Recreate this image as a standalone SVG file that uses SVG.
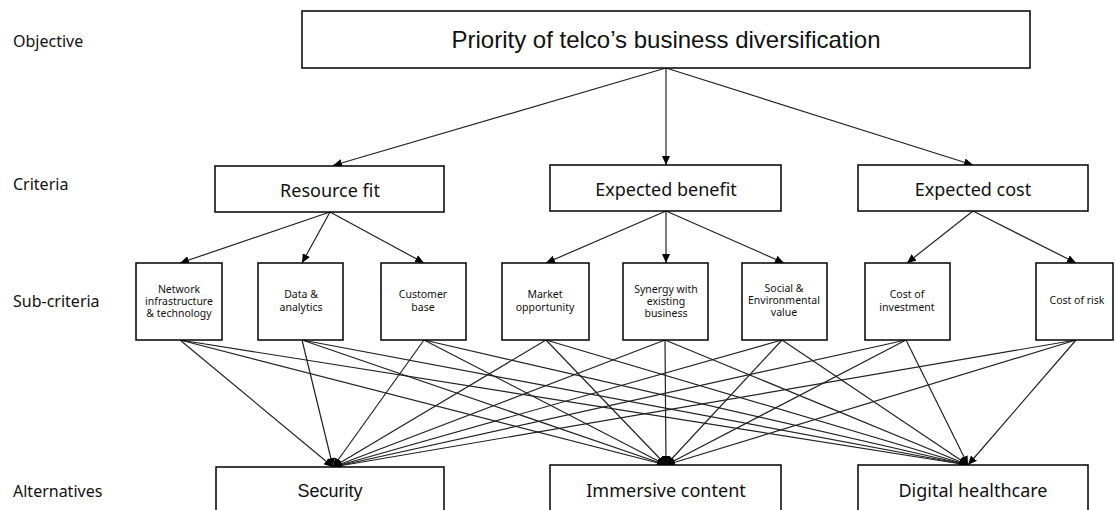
<svg xmlns="http://www.w3.org/2000/svg" width="1115" height="510" viewBox="0 0 1115 510">
<style>
.box{fill:#fff;stroke:#000;stroke-width:1.5}
.lbl{font-family:"Noto Sans","Liberation Sans",sans-serif;font-size:16px;fill:#111}
.crit{font-family:"Noto Sans","Liberation Sans",sans-serif;font-size:18px;fill:#111;text-anchor:middle}
.sub{font-family:"Noto Sans","Liberation Sans",sans-serif;font-size:10.5px;fill:#111;text-anchor:middle}
.ar{font-family:"Liberation Sans",Arial,sans-serif;fill:#111;text-anchor:middle}
.c line{stroke:#222;stroke-width:1.2;marker-end:url(#ah)}
</style>
<defs>
<marker id="ah" markerUnits="userSpaceOnUse" markerWidth="10" markerHeight="8" refX="9" refY="4" orient="auto">
<path d="M0,0 L9,4 L0,8 Z" fill="#000"/>
</marker>
</defs>
<rect width="1115" height="510" fill="#fff"/>
<g id="labels">
<text class="lbl" x="13" y="47">Objective</text>
<text class="lbl" x="13" y="190">Criteria</text>
<text class="lbl" x="13" y="307">Sub-criteria</text>
<text class="lbl" x="13" y="497">Alternatives</text>
</g>
<g class="c" id="connectors">
<line x1="666" y1="68" x2="333" y2="165.5"/>
<line x1="666" y1="68" x2="666" y2="165"/>
<line x1="666" y1="68" x2="973" y2="165"/>
<line x1="330" y1="212" x2="180" y2="263"/>
<line x1="330" y1="212" x2="302" y2="263"/>
<line x1="330" y1="212" x2="424" y2="263"/>
<line x1="666" y1="211" x2="546" y2="263"/>
<line x1="666" y1="211" x2="666" y2="263"/>
<line x1="666" y1="211" x2="784" y2="263"/>
<line x1="973" y1="211" x2="907" y2="263"/>
<line x1="973" y1="211" x2="1076" y2="263"/>
<line x1="180" y1="340" x2="333" y2="467"/>
<line x1="180" y1="340" x2="666" y2="465"/>
<line x1="180" y1="340" x2="968" y2="465"/>
<line x1="302" y1="340" x2="333" y2="467"/>
<line x1="302" y1="340" x2="666" y2="465"/>
<line x1="302" y1="340" x2="968" y2="465"/>
<line x1="424" y1="340" x2="333" y2="467"/>
<line x1="424" y1="340" x2="666" y2="465"/>
<line x1="424" y1="340" x2="968" y2="465"/>
<line x1="546" y1="340" x2="333" y2="467"/>
<line x1="546" y1="340" x2="666" y2="465"/>
<line x1="546" y1="340" x2="968" y2="465"/>
<line x1="665" y1="340" x2="333" y2="467"/>
<line x1="665" y1="340" x2="666" y2="465"/>
<line x1="665" y1="340" x2="968" y2="465"/>
<line x1="782" y1="340" x2="333" y2="467"/>
<line x1="782" y1="340" x2="666" y2="465"/>
<line x1="782" y1="340" x2="968" y2="465"/>
<line x1="906" y1="340" x2="333" y2="467"/>
<line x1="906" y1="340" x2="666" y2="465"/>
<line x1="906" y1="340" x2="968" y2="465"/>
<line x1="1076" y1="340" x2="333" y2="467"/>
<line x1="1076" y1="340" x2="666" y2="465"/>
<line x1="1076" y1="340" x2="968" y2="465"/>
</g>
<g id="objective">
<rect class="box" x="302" y="11" width="728" height="57"/>
<text class="ar" x="666" y="48" font-size="24">Priority of telco’s business diversification</text>
</g>
<g id="resource-fit">
<rect class="box" x="215" y="166" width="229" height="46"/>
<text class="crit" x="330" y="197">Resource fit</text>
</g>
<g id="expected-benefit">
<rect class="box" x="550" y="165" width="231" height="46"/>
<text class="crit" x="666" y="196">Expected benefit</text>
</g>
<g id="expected-cost">
<rect class="box" x="858" y="165" width="230" height="46"/>
<text class="crit" x="973" y="196">Expected cost</text>
</g>
<g id="network">
<rect class="box" x="136" y="263" width="86" height="77"/>
<text class="sub" x="179" y="293">Network</text>
<text class="sub" x="179" y="305">infrastructure</text>
<text class="sub" x="179" y="317">&amp; technology</text>
</g>
<g id="data">
<rect class="box" x="258" y="263" width="85" height="77"/>
<text class="sub" x="301" y="298">Data &amp;</text>
<text class="sub" x="301" y="311">analytics</text>
</g>
<g id="customer">
<rect class="box" x="381" y="263" width="85" height="77"/>
<text class="sub" x="423" y="298">Customer</text>
<text class="sub" x="423" y="311">base</text>
</g>
<g id="market">
<rect class="box" x="502" y="263" width="87" height="77"/>
<text class="sub" x="545" y="298">Market</text>
<text class="sub" x="545" y="311">opportunity</text>
</g>
<g id="synergy">
<rect class="box" x="623" y="263" width="85" height="77"/>
<text class="sub" x="666" y="293">Synergy with</text>
<text class="sub" x="666" y="305">existing</text>
<text class="sub" x="666" y="317">business</text>
</g>
<g id="social">
<rect class="box" x="742" y="263" width="85" height="77"/>
<text class="sub" x="784" y="292">Social &amp;</text>
<text class="sub" x="784" y="304">Environmental</text>
<text class="sub" x="784" y="316">value</text>
</g>
<g id="cost-investment">
<rect class="box" x="865" y="263" width="85" height="77"/>
<text class="sub" x="907" y="298">Cost of</text>
<text class="sub" x="907" y="311">investment</text>
</g>
<g id="cost-risk">
<rect class="box" x="1036" y="263" width="77" height="77"/>
<text class="sub" x="1077" y="304">Cost of risk</text>
</g>
<g id="security">
<rect class="box" x="216" y="467" width="228" height="60"/>
<text class="ar" x="330" y="497" font-size="18">Security</text>
</g>
<g id="immersive">
<rect class="box" x="550" y="465" width="231" height="60"/>
<text class="crit" x="666" y="497">Immersive content</text>
</g>
<g id="digital">
<rect class="box" x="858" y="465" width="230" height="60"/>
<text class="crit" x="973" y="497">Digital healthcare</text>
</g>
</svg>
